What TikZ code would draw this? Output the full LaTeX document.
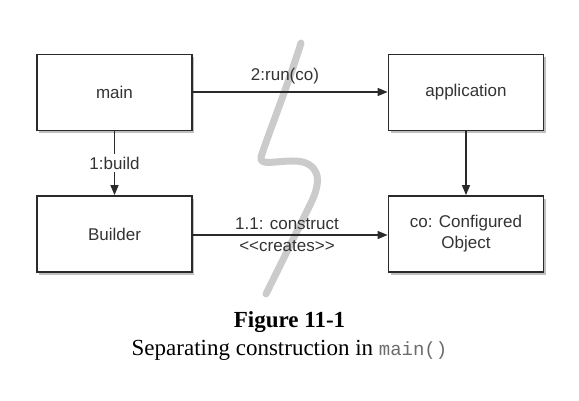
\documentclass[tikz,border=0pt]{standalone}
\usepackage{fontspec}
\usetikzlibrary{arrows.meta,shadows}
\newfontfamily\labfont{Liberation Sans}
\newfontfamily\capfont{Liberation Serif}
\newfontfamily\codefont{Liberation Mono}
\definecolor{inkc}{HTML}{2A2A2A}
\definecolor{txtc}{HTML}{333333}
\definecolor{squigc}{HTML}{CBCBCB}
\tikzset{
  objbox/.style={draw=inkc, line width=1.8pt, fill=white, minimum width=155pt, minimum height=76pt,
    inner sep=0pt, align=center, text=txtc, font=\labfont\fontsize{17}{21}\selectfont,
    drop shadow={shadow xshift=2pt, shadow yshift=-3pt, fill=black, opacity=0.25}},
  msg/.style={draw=inkc, line width=1.3pt, -{Triangle[length=10pt,width=8pt]}},
  lbl/.style={text=txtc, font=\labfont\fontsize{17}{20}\selectfont, inner sep=1pt},
  squig/.style={draw=squigc, line width=7pt, line cap=round, line join=round}
}
\begin{document}
\begin{tikzpicture}[x=1pt,y=-1pt]
\useasboundingbox (0,0) rectangle (579,401);
% squiggle
\draw[squig] (301,43) .. controls (288,85) and (268,135) .. (261,157)
  .. controls (258,168) and (285,158) .. (303,162)
  .. controls (322,168) and (320,185) .. (310,205) -- (266,294);
% boxes
\node[objbox] (main) at (114.5,92.5) {main};
\node[objbox] (app) at (466,92.5) {application};
\node[objbox] (builder) at (114.5,234) {Builder};
\node[objbox] (co) at (466,234) {co: Configured\\Object};
% connectors
\draw[msg] (main.east |- 0,92) -- (app.west |- 0,92);
\node[lbl] (runlbl) at (285,76) {2:run(co)};
\draw[msg] (main.south) -- node[lbl, fill=white, inner sep=3pt] (buildlbl) {1:build} (builder.north);
\draw[msg] (app.south) -- (co.north);
\draw[msg] (builder.east |- 0,235) -- (co.west |- 0,235);
\node[lbl] (conlbl) at (287,224) {1.1: construct};
\node[lbl] (crelbl) at (287,246) {<<creates>>};
% caption
\node[font=\capfont\bfseries\fontsize{23}{26}\selectfont, inner sep=0pt, anchor=base] (figt) at (289.5,327) {Figure 11-1};
\node[font=\capfont\fontsize{23}{26}\selectfont, inner sep=0pt, anchor=base] (figc) at (289.5,355)
  {Separating construction in {\codefont\fontsize{19}{22}\selectfont\color{gray!85!black}main()}};
\end{tikzpicture}
\end{document}
